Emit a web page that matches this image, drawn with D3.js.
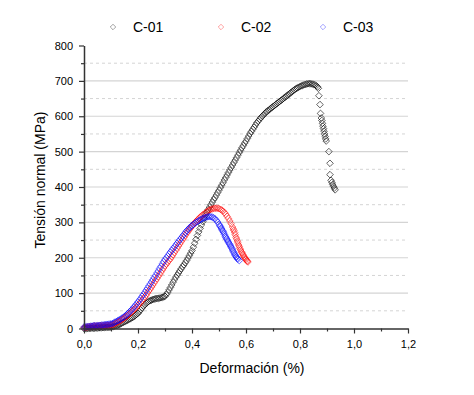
<!DOCTYPE html>
<html>
<head>
<meta charset="utf-8">
<script src="https://cdn.jsdelivr.net/npm/d3@7"></script>
<style>
  body { margin: 0; background: #fff; }
  text { font-family: Arial, "Liberation Sans", sans-serif; }
</style>
</head>
<body>
<svg id="chart" width="474" height="395"></svg>
<script>
const seriesNames = ['C-01', 'C-02', 'C-03'];
const seriesColors = ['#000000', '#ff0000', '#0000ff'];
const xTicks = [0, 0.2, 0.4, 0.6, 0.8, 1.0, 1.2];
const yTicks = [0, 100, 200, 300, 400, 500, 600, 700, 800];

// deformación (%), tensión (MPa)
const c01 = [
  [0,0],[0.005,0],[0.01,0],[0.015,0.3],[0.02,0.5],[0.025,0.7],[0.03,1],[0.035,1],[0.04,1],[0.045,1.3],[0.05,1.5],
  [0.055,1.8],[0.06,2],[0.065,2.2],[0.07,2.5],[0.075,2.8],[0.08,3],[0.085,3.2],[0.09,3.5],[0.095,3.8],
  [0.1,4],[0.105,5],[0.11,6],[0.115,7],[0.12,8],[0.125,9.5],[0.13,11],[0.135,13],[0.14,15],[0.145,17],[0.15,19],[0.155,21],[0.16,23],[0.165,25],[0.17,27],
  [0.175,29],[0.18,31],[0.185,34],[0.19,37],[0.195,40],[0.2,43],[0.205,48],[0.21,53],[0.215,58],[0.22,63],
  [0.225,67],[0.23,71],[0.235,74],[0.24,77],[0.245,79],[0.25,80],[0.255,82],[0.26,83],[0.265,84],[0.27,85],
  [0.275,85],[0.28,86],[0.285,87],[0.29,88],[0.295,89],[0.3,91],[0.305,96],[0.31,102],[0.315,109],[0.32,116],
  [0.325,123],[0.33,131],[0.335,138],[0.34,145],[0.345,151],[0.35,157],[0.355,163],[0.36,169],[0.365,175],[0.37,180],
  [0.375,186],[0.38,192],[0.385,199],[0.39,206],[0.395,213],[0.4,220],[0.405,230],[0.41,241],[0.415,252],[0.42,263],
  [0.425,273],[0.43,283],[0.435,293],[0.44,302],[0.445,311],[0.45,320],[0.455,328],[0.46,336],[0.465,343],[0.47,350],
  [0.475,357],[0.48,364],[0.485,370],[0.49,377],[0.495,384],[0.5,391],[0.505,398],[0.51,405],[0.515,412],[0.52,420],
  [0.525,427],[0.53,434],[0.535,441],[0.54,448],[0.545,455],[0.55,462],[0.555,469],[0.56,476],[0.565,483],[0.57,490],
  [0.575,497],[0.58,504],[0.585,511],[0.59,517],[0.595,524],[0.6,530],[0.605,537],[0.61,544],[0.615,551],[0.62,557],
  [0.625,563],[0.63,569],[0.635,575],[0.64,581],[0.645,586],[0.65,591],[0.655,596],[0.66,600],[0.665,604],[0.67,608],
  [0.675,612],[0.68,615],[0.685,618],[0.69,621],[0.695,624],[0.7,627],[0.705,630],[0.71,633],[0.715,636],[0.72,639],
  [0.725,642],[0.73,645],[0.735,648],[0.74,651],[0.745,654],[0.75,657],[0.755,660],[0.76,663],[0.765,666],[0.77,669],
  [0.775,672],[0.78,675],[0.785,678],[0.79,680],[0.795,682],[0.8,684],[0.805,686],[0.81,687],[0.815,689],[0.82,690],
  [0.825,691],[0.83,692],[0.835,692],[0.84,692],[0.845,691],[0.85,690],[0.855,689],[0.86,686],[0.865,683],
  [0.868,679],[0.87,658],[0.874,633],[0.876,608],[0.879,595],[0.881,588],[0.883,580],[0.885,572],[0.887,565],
  [0.889,558],[0.891,550],[0.893,543],[0.895,536],[0.897,530],[0.907,500],[0.911,467],[0.911,435],[0.915,419],
  [0.918,413],[0.921,407],[0.924,402],[0.927,397],[0.93,392]
];
const c02 = [
  [0,3],[0.005,3.5],[0.01,4],[0.015,4.5],[0.02,5],[0.025,5.5],[0.03,6],[0.035,6.5],[0.04,7],[0.045,7],[0.05,7],
  [0.055,7.5],[0.06,8],[0.065,8],[0.07,8],[0.075,8.5],[0.08,9],[0.085,9],[0.09,9],[0.095,9.5],
  [0.1,10],[0.105,11],[0.11,12],[0.115,14],[0.12,16],[0.125,18],[0.13,20],[0.135,22],[0.14,25],[0.145,27],
  [0.15,30],[0.155,33],[0.16,36],[0.165,39],[0.17,43],[0.175,46],[0.18,50],[0.185,54],[0.19,57],[0.195,61],
  [0.2,65],[0.205,70],[0.21,74],[0.215,79],[0.22,84],[0.225,89],[0.23,94],[0.235,100],[0.24,106],[0.245,111],
  [0.25,117],[0.255,123],[0.26,129],[0.265,135],[0.27,141],[0.275,147],[0.28,153],[0.285,159],[0.29,165],[0.295,171],
  [0.3,177],[0.305,182],[0.31,187],[0.315,192],[0.32,197],[0.325,203],[0.33,209],[0.335,215],[0.34,221],[0.345,227],
  [0.35,233],[0.355,239],[0.36,245],[0.365,251],[0.37,257],[0.375,263],[0.38,269],[0.385,274],[0.39,279],[0.395,284],
  [0.4,289],[0.405,294],[0.41,299],[0.415,303],[0.42,307],[0.425,311],[0.43,315],[0.435,318],[0.44,321],[0.445,324],
  [0.45,327],[0.455,330],[0.46,333],[0.465,335],[0.47,337],[0.475,338],[0.48,339],[0.485,340],[0.49,340],[0.495,340],
  [0.5,339],[0.505,337],[0.51,335],[0.515,332],[0.52,328],[0.525,323],[0.53,317],[0.535,311],[0.54,304],[0.545,296],
  [0.55,287],[0.553,281],[0.555,277],[0.558,271],[0.56,265],[0.563,258],[0.565,253],[0.568,247],[0.57,242],[0.573,236],
  [0.575,232],[0.578,226],[0.58,222],[0.583,217],[0.585,214],[0.588,210],[0.59,207],[0.593,203],[0.595,200],[0.598,197],
  [0.6,195],[0.603,192],[0.605,190],[0.607,188]
];
const c03 = [
  [0,4],[0.005,4.5],[0.01,5],[0.015,5.5],[0.02,6],[0.025,6.5],[0.03,7],[0.035,7.5],[0.04,8],[0.045,8],[0.05,8],
  [0.055,8.5],[0.06,9],[0.065,9.5],[0.07,10],[0.075,10.5],[0.08,11],[0.085,11.5],[0.09,12],[0.095,12.5],
  [0.1,13],[0.105,14],[0.11,16],[0.115,18],[0.12,20],[0.125,22],[0.13,24],[0.135,26],[0.14,29],[0.145,31],
  [0.15,34],[0.155,37],[0.16,41],[0.165,44],[0.17,48],[0.175,52],[0.18,56],[0.185,61],[0.19,65],[0.195,70],
  [0.2,75],[0.205,80],[0.21,85],[0.215,91],[0.22,96],[0.225,102],[0.23,108],[0.235,114],[0.24,120],[0.245,126],
  [0.25,132],[0.255,138],[0.26,144],[0.265,150],[0.27,157],[0.275,163],[0.28,170],[0.285,176],[0.29,183],[0.295,189],
  [0.3,195],[0.305,200],[0.31,205],[0.315,211],[0.32,216],[0.325,221],[0.33,226],[0.335,231],[0.34,236],[0.345,241],
  [0.35,246],[0.355,251],[0.36,256],[0.365,261],[0.37,266],[0.375,271],[0.38,276],[0.385,280],[0.39,284],[0.395,288],
  [0.4,291],[0.405,294],[0.41,297],[0.415,300],[0.42,302],[0.425,305],[0.43,307],[0.435,309],[0.44,311],[0.445,313],
  [0.45,314],[0.455,315],[0.46,316],[0.465,316],[0.47,316],[0.475,315],[0.48,313],[0.485,310],[0.49,306],[0.495,301],
  [0.5,295],[0.503,291],[0.505,288],[0.508,284],[0.51,281],[0.513,277],[0.515,274],[0.518,270],[0.52,266],[0.523,261],
  [0.525,258],[0.528,254],[0.53,251],[0.533,247],[0.535,244],[0.538,240],[0.54,237],[0.543,233],[0.545,230],[0.548,226],
  [0.55,222],[0.553,218],[0.555,214],[0.558,210],[0.56,207],[0.563,203],[0.565,201],[0.568,198],[0.57,196],[0.575,192]
];
const seriesData = [c01, c02, c03];

const svg = d3.select('#chart');
const margin = { left: 84, right: 66, top: 45.5, bottom: 66.5 };
const W = 474, H = 395;

const x = d3.scaleLinear().domain([0, 1.2]).range([margin.left, W - margin.right]);
const y = d3.scaleLinear().domain([0, 800]).range([H - margin.bottom, margin.top]);

// square diamond, like the Origin marker
const diamond = {
  draw(ctx, size) {
    const r = Math.sqrt(size / 2);
    ctx.moveTo(0, -r);
    ctx.lineTo(r, 0);
    ctx.lineTo(0, r);
    ctx.lineTo(-r, 0);
    ctx.closePath();
  }
};
const sym = d3.symbol().type(diamond).size(22)();
const legendSym = d3.symbol().type(diamond).size(15)();

// grid
const grid = svg.append('g');
grid.selectAll('line.minor')
  .data(d3.range(50, 800, 100))
  .join('line')
  .attr('x1', x(0)).attr('x2', x(1.2))
  .attr('y1', d => y(d)).attr('y2', d => y(d))
  .attr('stroke', '#d4d4d4')
  .attr('stroke-width', 1)
  .attr('stroke-dasharray', '3,3');
grid.selectAll('line.major')
  .data(yTicks.filter(d => d > 0 && d < 800))
  .join('line')
  .attr('x1', x(0)).attr('x2', x(1.2))
  .attr('y1', d => y(d)).attr('y2', d => y(d))
  .attr('stroke', '#d4d4d4')
  .attr('stroke-width', 1.2);

// points
seriesData.forEach((data, i) => {
  svg.append('g')
    .selectAll('path')
    .data(data)
    .join('path')
    .attr('d', sym)
    .attr('transform', d => `translate(${x(d[0])},${y(d[1])})`)
    .attr('fill', 'none')
    .attr('stroke', seriesColors[i])
    .attr('stroke-opacity', i === 0 ? 0.6 : 0.55)
    .attr('stroke-width', 1);
});

// axes
const fmt = d => d3.format('.1f')(d).replace('.', ',');
svg.append('g')
  .attr('transform', `translate(0,${y(0)})`)
  .call(d3.axisBottom(x).tickValues(xTicks).tickFormat(fmt).tickSize(5).tickSizeOuter(0).tickPadding(7));
svg.append('g')
  .attr('transform', `translate(0,${y(0)})`)
  .call(d3.axisBottom(x).tickValues(d3.range(0.1, 1.2, 0.2)).tickFormat('').tickSize(3).tickSizeOuter(0))
  .call(g => g.select('.domain').remove());
svg.append('g')
  .attr('transform', `translate(${x(0)},0)`)
  .call(d3.axisLeft(y).tickValues(yTicks).tickSize(5).tickSizeOuter(0).tickPadding(6));
svg.append('g')
  .attr('transform', `translate(${x(0)},0)`)
  .call(d3.axisLeft(y).tickValues(d3.range(50, 800, 100)).tickFormat('').tickSize(3).tickSizeOuter(0))
  .call(g => g.select('.domain').remove());

svg.selectAll('.domain').attr('stroke', '#333').attr('stroke-width', 1.5);
svg.selectAll('.tick line').attr('stroke', '#333').attr('stroke-width', 1.2);
svg.selectAll('.tick text').attr('font-size', 11).attr('fill', '#000')
  .attr('font-family', 'Arial, "Liberation Sans", sans-serif');

// axis titles
svg.append('text')
  .attr('x', 252).attr('y', 373)
  .attr('text-anchor', 'middle')
  .attr('font-size', 14)
  .text('Deformación (%)');
svg.append('text')
  .attr('transform', 'translate(45,180) rotate(-90)')
  .attr('text-anchor', 'middle')
  .attr('font-size', 14)
  .text('Tensión normal (MPa)');

// legend
const legendX = [113, 221, 323];
const legend = svg.append('g')
  .selectAll('g')
  .data(seriesNames)
  .join('g')
  .attr('transform', (d, i) => `translate(${legendX[i]},27)`);
legend.append('path')
  .attr('d', legendSym)
  .attr('fill', 'none')
  .attr('stroke', (d, i) => seriesColors[i])
  .attr('stroke-opacity', 0.4)
  .attr('stroke-width', 0.9);
legend.append('text')
  .attr('x', 20).attr('y', 5)
  .attr('font-size', 14)
  .text(d => d);
</script>
</body>
</html>
